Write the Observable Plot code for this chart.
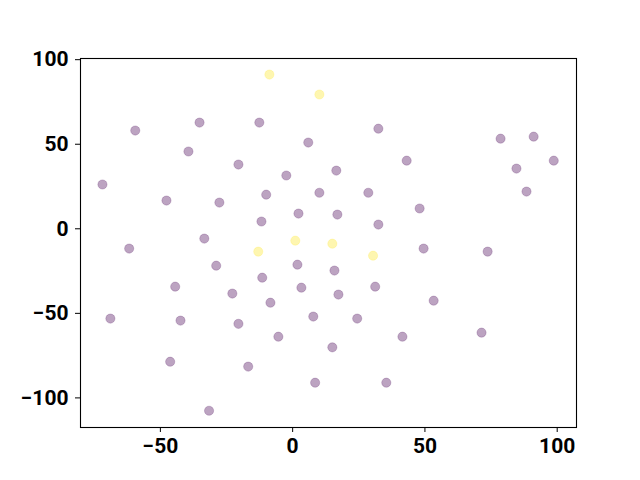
<!DOCTYPE html>
<html>
<head>
<meta charset="utf-8">
<script src="https://cdn.jsdelivr.net/npm/d3@7"></script>
<script src="https://cdn.jsdelivr.net/npm/@observablehq/plot@0.6"></script>
<style>
  html, body { margin: 0; padding: 0; background: #fff; }
</style>
</head>
<body>
<div id="chart"></div>
<script>
const xs = [-8.8, 10.1, -59.5, -35.2, -12.6, -39.4, 5.9, 32.4, -20.5, 16.5, 43.1, 78.6, 91.1, 98.7, 84.6, 88.4,
  -71.9, -2.4, -10.0, 10.1, 28.6, -47.7, -27.7, 48.0, -11.8, 2.2, 16.9, 32.4, -33.4, -61.8,
  -13.0, 1.0, 15.0, 30.4, 49.5, 73.7, -28.9, 1.8, 15.8, -11.5, -44.4, 3.3, 31.2, -22.8, 17.3, 53.3,
  -8.4, -68.9, -42.4, 7.8, 24.4, -20.5, -5.4, 41.5, 71.4, 15.0, -46.3, -16.8, 8.5, 35.4, -31.6];
const ys = [91.2, 79.4, 58.1, 62.8, 62.8, 45.7, 51.0, 59.2, 38.0, 34.4, 40.3, 53.3, 54.5, 40.3, 35.6, 22.0,
  26.2, 31.5, 20.2, 21.3, 21.3, 16.7, 15.5, 12.0, 4.3, 9.0, 8.4, 2.5, -5.8, -11.7,
  -13.5, -7.0, -8.8, -15.9, -11.7, -13.5, -21.8, -21.2, -24.7, -28.9, -34.2, -34.8, -34.2, -38.3, -38.9, -42.5,
  -43.7, -53.1, -54.3, -51.9, -53.1, -56.2, -63.8, -63.8, -61.4, -70.1, -78.6, -81.5, -91.0, -91.0, -107.6];
const groups = [1, 1, 0, 0, 0, 0, 0, 0, 0, 0, 0, 0, 0, 0, 0, 0,
  0, 0, 0, 0, 0, 0, 0, 0, 0, 0, 0, 0, 0, 0,
  1, 1, 1, 1, 0, 0, 0, 0, 0, 0, 0, 0, 0, 0, 0, 0,
  0, 0, 0, 0, 0, 0, 0, 0, 0, 0, 0, 0, 0, 0, 0];
const xTicks = [-50, 0, 50, 100];
const yTicks = [-100, -50, 0, 50, 100];

const data = xs.map((x, i) => ({x, y: ys[i], g: groups[i]}));
const colorOf = d => d.g === 1 ? "#fde725" : "#440154";
const fmt = d => d < 0 ? "\u2212" + Math.abs(d) : String(d);

const chart = Plot.plot({
  width: 640,
  height: 480,
  marginLeft: 80,
  marginRight: 64,
  marginTop: 58,
  marginBottom: 53,
  style: {fontFamily: "Roboto, sans-serif", fontSize: "21px", fontWeight: "bold", color: "#000", background: "#fff"},
  x: {domain: [-80.2, 107.3], label: null},
  y: {domain: [-117.5, 100.7], label: null},
  marks: [
    Plot.dot(data, {x: "x", y: "y", fill: colorOf, fillOpacity: 0.36, stroke: colorOf, strokeOpacity: 0.2, strokeWidth: 1, r: 4.6}),
    Plot.frame({stroke: "#000", strokeWidth: 1.1}),
    Plot.axisX({ticks: xTicks, tickSize: 5, tickPadding: 6, tickFormat: fmt, label: null}),
    Plot.axisY({ticks: yTicks, tickSize: 5, tickPadding: 7, tickFormat: fmt, label: null})
  ]
});
document.getElementById("chart").appendChild(chart);
</script>
</body>
</html>
